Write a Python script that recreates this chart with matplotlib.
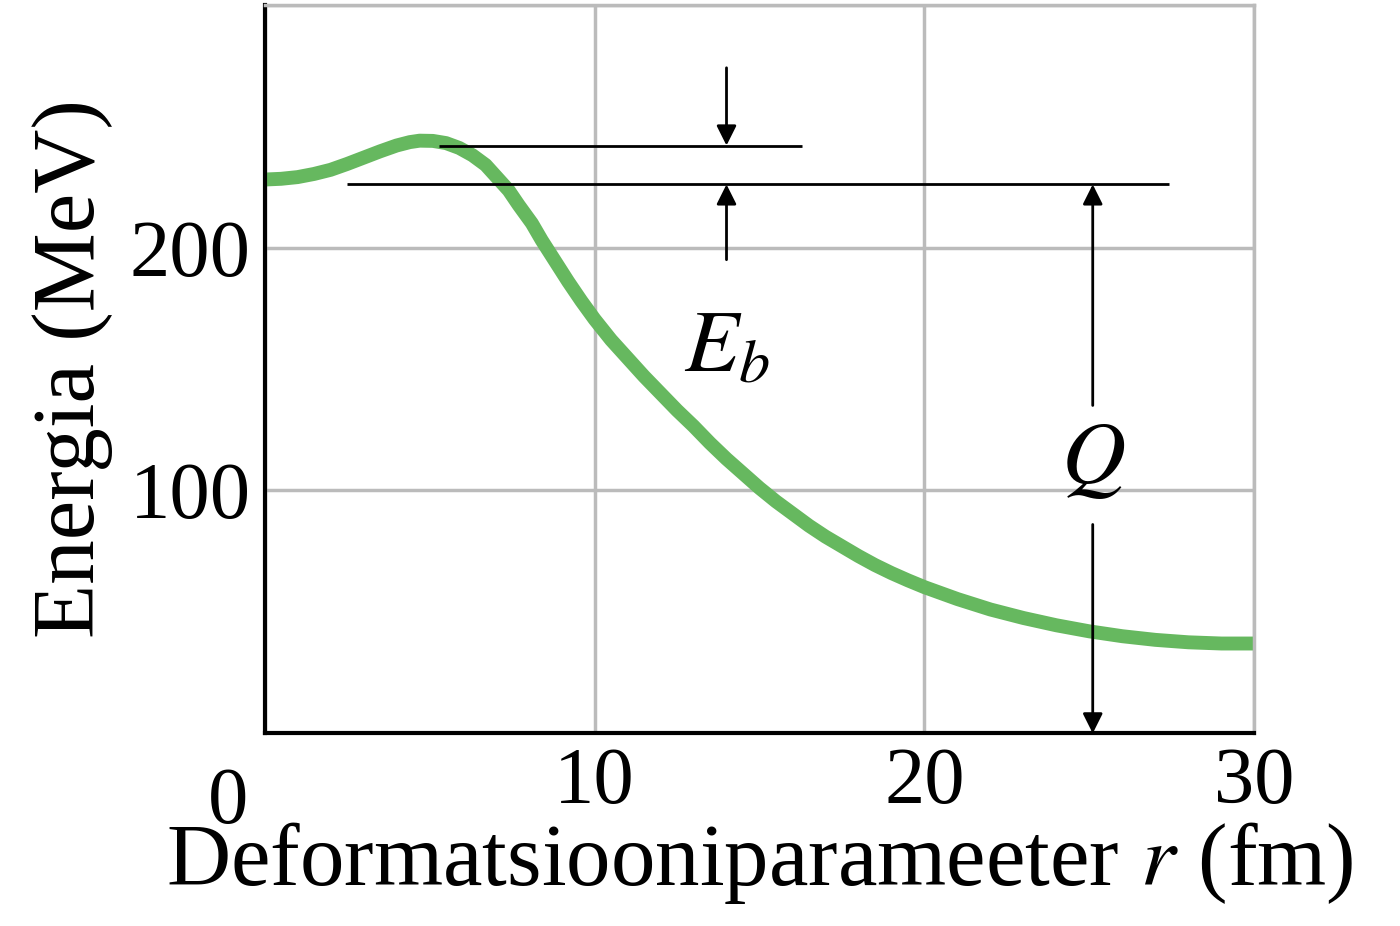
import numpy as np
import matplotlib.pyplot as plt

plt.rcParams['font.family'] = ['Liberation Serif', 'DejaVu Serif']
plt.rcParams['mathtext.fontset'] = 'stix'

# curve
r = [0, 0.5, 1, 1.5, 2, 2.5, 3, 3.5, 4, 4.4, 4.7, 5.1, 5.5, 5.9, 6.3, 6.7, 7, 7.4, 7.7, 8.1, 8.4,
     8.8, 9.2, 9.6, 10, 10.5, 11, 11.5, 12, 12.5, 13, 13.5, 14, 14.5, 15, 15.5, 16, 16.5, 17, 17.5,
     18, 18.5, 19, 19.5, 20, 21, 22, 23, 24, 25, 26, 27, 28, 29, 30]
energy = [228, 228.3, 229, 230.3, 232, 234.4, 237, 239.6, 242, 243.4, 244, 243.9, 243, 241, 238, 234,
          229.5, 223.5, 217.5, 210, 203, 194.5, 186, 178, 170.5, 162, 154.5, 147, 140, 133, 126.5,
          119.5, 113, 107, 101, 95.5, 90.5, 85.5, 81, 77, 73, 69.3, 66, 63, 60.2, 55.3, 51, 47.5,
          44.5, 42, 40, 38.5, 37.5, 37, 37]

xticks = [0, 10, 20, 30]
yticks = [100, 200]
barrier_top = 242
fission_level = 226
xlabel = 'Deformatsiooniparameeter $r$ (fm)'
ylabel = 'Energia (MeV)'

fig = plt.figure(figsize=(14, 9.26), dpi=100)
ax = fig.add_axes([0.189, 0.208, 0.707, 0.787])
ax.set_xlim(0, 30)
ax.set_ylim(0, 300)

ax.grid(True, color='#bbbbbb', lw=2.5)
ax.set_axisbelow(True)
ax.set_xticks(xticks)
ax.set_xticklabels(['', '10', '20', '30'])
ax.set_yticks(yticks + [300])
ax.set_yticklabels(['100', '200', ''])
ax.tick_params(length=0, labelsize=58, pad=10)
ax.text(-1.1, -14, '0', fontsize=58, ha='center', va='top')
for s in ['top', 'right']:
    ax.spines[s].set_color('#bbbbbb')
    ax.spines[s].set_linewidth(2.5)
for s in ['left', 'bottom']:
    ax.spines[s].set_color('black')
    ax.spines[s].set_linewidth(3)

ax.plot(r, energy, color='#66b85f', lw=10, solid_capstyle='butt', clip_on=False)

ax.hlines(barrier_top, 5.3, 16.3, color='black', lw=2)
ax.hlines(fission_level, 2.5, 27.4, color='black', lw=2)

arr = dict(arrowstyle='-|>', color='black', lw=2, mutation_scale=30, shrinkA=0, shrinkB=0)
ax.annotate('', xy=(14, barrier_top), xytext=(14, 274), arrowprops=arr)
ax.annotate('', xy=(14, fission_level), xytext=(14, 195), arrowprops=arr)
ax.annotate('', xy=(25.1, fission_level), xytext=(25.1, 135), arrowprops=arr)
ax.annotate('', xy=(25.1, 0), xytext=(25.1, 86), arrowprops=arr)

ax.text(14, 158, '$E_b$', fontsize=64, ha='center', va='center')
ax.text(25.1, 112, '$Q$', fontsize=64, ha='center', va='center')

ax.set_xlabel(xlabel, fontsize=64, labelpad=0)
ax.set_ylabel(ylabel, fontsize=64, labelpad=12)

fig.savefig('out.png', dpi=100)
